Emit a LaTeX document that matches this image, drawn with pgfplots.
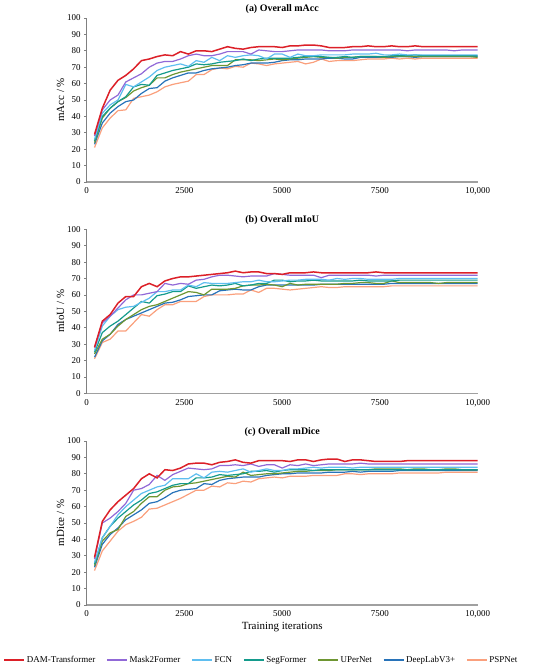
\documentclass[border=0pt]{standalone}
\usepackage{fontspec}
\setmainfont{Liberation Serif}
\usepackage{pgfplots}
\usepackage{pgfplotstable}
\pgfplotsset{compat=1.18}
\definecolor{cdam}{RGB}{220,32,40}
\definecolor{cm2f}{RGB}{145,105,215}
\definecolor{cfcn}{RGB}{95,190,240}
\definecolor{cseg}{RGB}{20,155,140}
\definecolor{cupe}{RGB}{110,150,50}
\definecolor{cdlv}{RGB}{40,115,185}
\definecolor{cpsp}{RGB}{250,160,125}
\definecolor{axgray}{RGB}{160,160,160}

\pgfplotstableread{
x dam m2f fcn seg uper dlv psp
200 29 28 26 25 24 23 21
400 45 44 42 40 39 36 33
600 56 50 47 45 45 42 39
800 62 53 50 49 49 46 43.5
1000 65 61 59.5 52 51.5 49 44
1200 69 63.5 58 58 55.5 50 51
1400 74 66 61 59.5 57.5 54 52
1600 75 70 64 59 59 57 53
1800 76.5 72.5 68 65 63.5 57.5 55
2000 77.5 73.5 70 66.5 63.5 61.5 58
2200 77 73.5 71 68 65.5 63.5 59.5
2400 79.5 75 72 69 67 65 60.5
2600 78 77 70.5 70 68 66.5 61.5
2800 80 78 74 72 69 66.5 65.5
3000 80 77 73 71.5 70 68 65.5
3200 79.5 77 76 72 71 69 68.5
3400 81 78 74 73 71 69.5 69.5
3600 82.5 79.5 77 73.5 71 70 69
3800 81.5 79.5 76 74 74.5 71 70.5
4000 81 79.5 77 75 74.5 71.5 70
4200 82 78 77.5 74 74.5 72.5 72.5
4400 82.5 80.5 77 75 74 72.5 72
4600 82.5 80 75 75.5 74.5 72.5 71
4800 82.5 79.5 78 75.5 75 73 72
5000 82 79.5 78 75.5 74.5 74 72.5
5200 83 80 76 75.5 75 74.5 73
5400 83 80.5 78 76 75.5 74.5 73.5
5600 83.5 80.5 77 76.5 76 75 72
5800 83.5 80.5 77 76.5 76.5 75 73
6000 83 80.5 77.5 76.5 76 75 75
6200 82 80 77.5 76 76 75.5 73.5
6400 82 80 77.5 76 75.5 75.5 74
6600 82 80 77.5 76.5 76 75 74
6800 82.5 80.5 78 76 76 75 74
7000 82.5 80.5 78 76.5 76.5 76 74.5
7200 83 80.5 78 76.5 76.5 76 75
7400 82.5 80.5 78.5 76.5 76.5 76 75
7600 82.5 80.5 77.5 76.5 76 76 75
7800 83 80.5 77.5 77 76.5 76 75.5
8000 82.5 80.5 78 77 76.5 76.5 75
8200 82.5 80 77.5 77 76.5 76.5 75.5
8400 83 80.5 77.5 77.5 76.5 76 75
8600 82.5 80.5 77.5 77 76.5 76.5 75.5
8800 82.5 80.5 77.5 77 76.5 76.5 75.5
9000 82.5 80.5 77.5 77 76.5 76.5 75.5
9200 82.5 80.5 77.5 77 76.5 76.5 75.5
9400 82.5 80 77.5 77 76.5 76.5 75.5
9600 82.5 80.5 77.5 77 76.5 76.5 75.5
9800 82.5 80.5 77.5 77 76.5 76.5 75.5
10000 82.5 80.5 77.5 77 76 76.5 75.5
}\tA

\pgfplotstableread{
x dam m2f fcn seg uper dlv psp
200 28 28 26 25 24 22 21
400 44 43 41 37 33 32 31
600 48 47 47 41 36 36 33
800 55 52 51 44 41 42 38
1000 59 57 52.5 48 45 45 38
1200 59 60 53 52 48 47 43
1400 65 60 55.5 56 51 49 48
1600 67 61 58 55 53 51 47
1800 65 62 62 59.5 54 53 51
2000 68.5 67 62 60.5 56 55 54
2200 70 66 63 62 58 55.5 54
2400 71 67 63 62 60 57 56
2600 71 66.5 66 65.5 62 59 56
2800 71.5 69 65 64 61.5 59.5 56
3000 72 69.5 67.5 65 60 60 59
3200 72.5 71 67 66 63.5 60 60
3400 73 72 67 65.5 63.5 62.5 60
3600 73.5 72 67 66 63.5 63 60
3800 74.5 71.5 67.5 67 64 63.5 60.5
4000 73.5 71 68 65.5 65.5 63 60.5
4200 74 71.5 68 66 66 63 63
4400 74 71.5 69 67 66 65 61.5
4600 73 71.5 68 67 66.5 66 64
4800 73 73 68 69 66 66 64
5000 72.5 72.5 68.5 69 65 66 63.5
5200 73.5 72 69 68 67 66 63
5400 73.5 72 69 68.5 66 66 63.5
5600 73.5 72 69.5 68.5 66.5 66 64
5800 74 72 69.5 69 66.5 66 64.5
6000 73.5 70.5 69.5 68.5 66.5 66.5 65
6200 73.5 72 69 68.5 66.5 66.5 64.5
6400 73.5 72 70 68.5 66.5 66.5 64.5
6600 73.5 72 69.5 68.5 67 66.5 65
6800 73.5 72 70 68.5 67 66.5 65
7000 73.5 72 70 69 67.5 66.5 65
7200 73.5 72 69.5 68.5 67.5 66.5 65
7400 74 71.5 69.5 68.5 67 66.5 65
7600 73.5 72 69.5 68.5 67 66.5 65
7800 73.5 72 69.5 68.5 68.5 67 65.5
8000 73.5 72 70 69 67.5 67 65.5
8200 73.5 72 70 69 67.5 67 65.5
8400 73.5 72 70 69 67.5 67 65.5
8600 73.5 72 70 69 67.5 67 65.5
8800 73.5 72 70 69 67.5 67 65.5
9000 73.5 72 70 69 67 67 65.5
9200 73.5 72 70 69 67.5 67 65.5
9400 73.5 72 70 69 67.5 67 65.5
9600 73.5 72 70 69 67.5 67 65.5
9800 73.5 72 70 69 67.5 67 65.5
10000 73.5 72 70 69 67.5 67 65.5
}\tB

\pgfplotstableread{
x dam m2f fcn seg uper dlv psp
200 29 28 26 25 24 23 21
400 51 50 41 41 39 37 33
600 58 53 48 48 44 43 39
800 63 57 55 53 46 47 45
1000 67 62 60 57 54 52 49
1200 71 70 64 61 57 55 51
1400 77 71 68 64 62 58 53.5
1600 80 73.5 70 68 66 62 58.5
1800 77.5 79 72 69 66 63 59
2000 82.5 76 73 71 70 65.5 61
2200 82 79.5 77 73 72 68.5 63
2400 83.5 81.5 77 74 72.5 70 65
2600 86 83.5 77 74 74 70.5 67.5
2800 86.5 83 80 77.5 74.5 71 70
3000 86.5 82.5 77.5 77.5 75.5 74 70
3200 85.5 83 81 78 76.5 73.5 72.5
3400 87 85 81.5 79.5 77.5 76 72
3600 87.5 85 81 79 78.5 77 74.5
3800 88.5 85.5 82 79.5 78 77.5 74
4000 87 85 83 80 81 78 75.5
4200 86.5 86 81 81.5 79 78 75
4400 88 84.5 82 81.5 79.5 78 77
4600 88 85.5 83 82 80 79 77.5
4800 88 85.5 82 81 80 79.5 78
5000 88 83.5 82 82 80.5 80 77.5
5200 87.5 85.5 83 82.5 81 80 78.5
5400 88.5 85 83 82.5 81.5 80.5 78.5
5600 88.5 86 83.5 82.5 81.5 80.5 78.5
5800 87.5 85 84 82 82 80.5 79
6000 88.5 85.5 83.5 82.5 82 80.5 79
6200 89 86 84 82.5 82 81 79
6400 89 86 84 82.5 82.5 81 79
6600 87.5 86 84 82.5 82.5 81 80
6800 88.5 86 83.5 82.5 82.5 81.5 80
7000 88.5 86.5 84 82.5 82.5 81 79.5
7200 88 86 84 82.5 82.5 81.5 80
7400 87.5 86 84 82.5 83 81.5 80
7600 87.5 86 84 82.5 83 81.5 80
7800 87.5 86 84 82.5 83 81.5 80
8000 87.5 86 84 82.5 83 82 80.5
8200 88 86 84 82.5 82.5 82 80.5
8400 88 86 84 82.5 83 82 80.5
8600 88 86 84 82.5 83 82 80.5
8800 88 86 84 82.5 82.5 82 80.5
9000 88 86 84 82.5 82.5 82 80.5
9200 88 86 84 82.5 83 82 81
9400 88 86 84 82.5 83 82 81
9600 88 86 84 82.5 82.5 82 81
9800 88 86 84 82.5 82.5 82 81
10000 88 86 84 82.5 82.5 82 81
}\tC

\pgfplotsset{
  myaxis/.style={
    scale only axis, width=391bp, height=164bp,
    anchor=south west,
    xmin=0, xmax=10000, ymin=0, ymax=100,
    axis x line*=bottom, axis y line*=left,
    x axis line style={-, draw=axgray, line width=1.2bp},
    y axis line style={-, draw=gray, line width=0.6bp},
    xtick={0,2500,5000,7500,10000},
    xticklabels={0,2500,5000,7500,{10,000}},
    xtick style={draw=none},
    ytick={0,10,...,100},
    ytick style={draw=gray, line width=0.6bp},
    tick align=outside, major tick length=2.5bp,
    /pgf/number format/assume math mode=true,
    tick label style={font=\fontsize{9}{10}\selectfont},
    scaled x ticks=false,
    title style={font=\fontsize{10}{12}\selectfont\bfseries, at={(0.5,1)}, anchor=south, yshift=-5bp},
    ylabel style={font=\fontsize{11}{13}\selectfont, at={(axis description cs:-0.067,0.5)}, anchor=center},
    xlabel style={font=\fontsize{11}{13}\selectfont},
    every axis plot/.append style={line width=1.2bp, mark=none},
    legend image code/.code={\draw[#1, line width=1.3bp] (0bp,0bp) -- (20bp,0bp);},
  },
  dam/.style={draw=cdam, line width=1.5bp},
  m2f/.style={draw=cm2f},
  fcn/.style={draw=cfcn},
  seg/.style={draw=cseg},
  upe/.style={draw=cupe},
  dlv/.style={draw=cdlv},
  psp/.style={draw=cpsp},
}

\begin{document}
\begin{tikzpicture}
\useasboundingbox (0,0) rectangle (550bp,670bp);

\begin{axis}[myaxis, at={(86.7bp,488bp)}, title={(a) Overall mAcc}, ylabel={mAcc / \%}]
\addplot[psp] table[x=x,y=psp]{\tA};
\addplot[dlv] table[x=x,y=dlv]{\tA};
\addplot[upe] table[x=x,y=uper]{\tA};
\addplot[seg] table[x=x,y=seg]{\tA};
\addplot[fcn] table[x=x,y=fcn]{\tA};
\addplot[m2f] table[x=x,y=m2f]{\tA};
\addplot[dam] table[x=x,y=dam]{\tA};
\end{axis}

\begin{axis}[myaxis, at={(86.7bp,276.7bp)}, title={(b) Overall mIoU}, ylabel={mIoU / \%}]
\addplot[psp] table[x=x,y=psp]{\tB};
\addplot[dlv] table[x=x,y=dlv]{\tB};
\addplot[upe] table[x=x,y=uper]{\tB};
\addplot[seg] table[x=x,y=seg]{\tB};
\addplot[fcn] table[x=x,y=fcn]{\tB};
\addplot[m2f] table[x=x,y=m2f]{\tB};
\addplot[dam] table[x=x,y=dam]{\tB};
\end{axis}

\begin{axis}[myaxis, at={(86.7bp,65bp)}, title={(c) Overall mDice}, ylabel={mDice / \%},
  xlabel={Training iterations},
  xlabel style={at={(axis description cs:0.5,-0.135)}, anchor=center},
  reverse legend,
  legend columns=7,
  legend style={draw=none, fill=none, font=\fontsize{9}{11}\selectfont,
    at={(0.447,-0.335)}, anchor=center,
    /tikz/every even column/.append style={column sep=9bp},
    /tikz/every odd column/.append style={column sep=0bp},
    inner sep=0pt}]
\addplot[psp] table[x=x,y=psp]{\tC};
\addplot[dlv] table[x=x,y=dlv]{\tC};
\addplot[upe] table[x=x,y=uper]{\tC};
\addplot[seg] table[x=x,y=seg]{\tC};
\addplot[fcn] table[x=x,y=fcn]{\tC};
\addplot[m2f] table[x=x,y=m2f]{\tC};
\addplot[dam] table[x=x,y=dam]{\tC};
\legend{PSPNet,DeepLabV3+,UPerNet,SegFormer,FCN,Mask2Former,DAM-Transformer}
\end{axis}
\end{tikzpicture}
\end{document}
